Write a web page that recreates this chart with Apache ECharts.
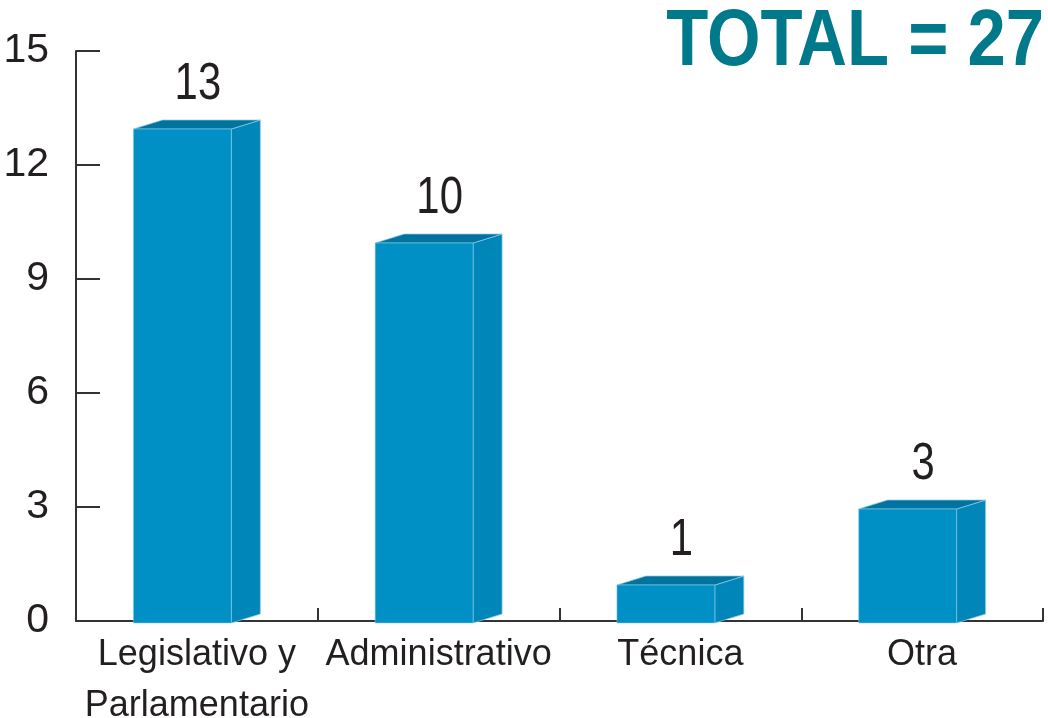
<!DOCTYPE html>
<html>
<head>
<meta charset="utf-8">
<script src="https://cdn.jsdelivr.net/npm/echarts@6/dist/echarts.min.js"></script>
<style>
  html, body { margin: 0; padding: 0; background: #fff; }
  #chart { width: 1048px; height: 718px; }
</style>
</head>
<body>
<div id="chart"></div>
<script>
var categories = ['Legislativo y\nParlamentario', 'Administrativo', 'Técnica', 'Otra'];
var values = [13, 10, 1, 3];
var yTicks = [0, 3, 6, 9, 12, 15];
var totalText = 'TOTAL = 27';

var font = '"Liberation Sans", Arial, sans-serif';
var textColor = '#231f20';
var axisColor = '#333333';
var frontColor = '#0090c6';
var sideColor = '#0086b8';
var topColor = '#00739e';
var edgeColor = 'rgba(140,205,235,0.9)';

var chart = echarts.init(document.getElementById('chart'));

function renderBox(params, api) {
  var idx = api.value(0);
  var val = api.value(1);
  var base = api.coord([idx, 0]);
  var top = api.coord([idx, val]);
  var catW = api.size([1, 0])[0];
  var frontW = catW * 0.405;
  var dx = 29, dy = 9, shift = 2;
  var x0 = base[0] - (frontW + dx) / 2;
  var x1 = x0 + frontW;
  var yb = base[1] + shift;
  var yt = top[1] + shift;
  return {
    type: 'group',
    children: [
      {
        type: 'polygon',
        shape: { points: [[x1, yb], [x1, yt], [x1 + dx, yt - dy], [x1 + dx, yb - dy]] },
        style: { fill: sideColor, stroke: edgeColor, lineWidth: 0.8 }
      },
      {
        type: 'polygon',
        shape: { points: [[x0, yt], [x0 + dx, yt - dy], [x1 + dx, yt - dy], [x1, yt]] },
        style: { fill: topColor, stroke: edgeColor, lineWidth: 0.8 }
      },
      {
        type: 'rect',
        shape: { x: x0, y: yt, width: frontW, height: yb - yt },
        style: { fill: frontColor, stroke: edgeColor, lineWidth: 0.6 }
      },
      {
        type: 'text',
        x: base[0] + 1,
        y: yt - dy - 10,
        scaleX: 0.82,
        style: {
          text: String(val),
          font: '51px ' + font,
          fill: textColor,
          align: 'center',
          verticalAlign: 'bottom'
        }
      }
    ]
  };
}

var option = {
  animation: false,
  grid: { left: 76, right: 5, top: 51, bottom: 97, outerBoundsMode: 'none', containLabel: false },
  xAxis: {
    type: 'category',
    data: categories,
    boundaryGap: true,
    axisLine: { show: true, lineStyle: { color: axisColor, width: 2 } },
    axisTick: { show: true, inside: true, length: 13, lineStyle: { color: axisColor, width: 2 } },
    axisLabel: {
      interval: 0,
      margin: 9,
      color: textColor,
      fontFamily: font,
      fontSize: 36,
      lineHeight: 51
    }
  },
  yAxis: {
    type: 'value',
    min: 0,
    max: 15,
    interval: 3,
    splitLine: { show: false },
    axisLine: { show: true, lineStyle: { color: axisColor, width: 2 } },
    axisTick: { show: true, inside: true, length: 24, lineStyle: { color: axisColor, width: 2 } },
    axisLabel: {
      margin: 27,
      color: textColor,
      fontFamily: font,
      fontSize: 41,
      formatter: function (v) { return yTicks.indexOf(v) >= 0 ? String(v) : ''; }
    }
  },
  graphic: [
    {
      type: 'text',
      x: 1044,
      y: 43,
      scaleX: 0.86,
      style: {
        text: totalText,
        font: 'bold 80px ' + font,
        fill: '#007a8a',
        align: 'right',
        verticalAlign: 'middle'
      }
    }
  ],
  series: [
    {
      type: 'custom',
      renderItem: renderBox,
      data: values.map(function (v, i) { return [i, v]; }),
      encode: { x: 0, y: 1 },
      clip: false
    }
  ]
};

chart.setOption(option);
</script>
</body>
</html>
